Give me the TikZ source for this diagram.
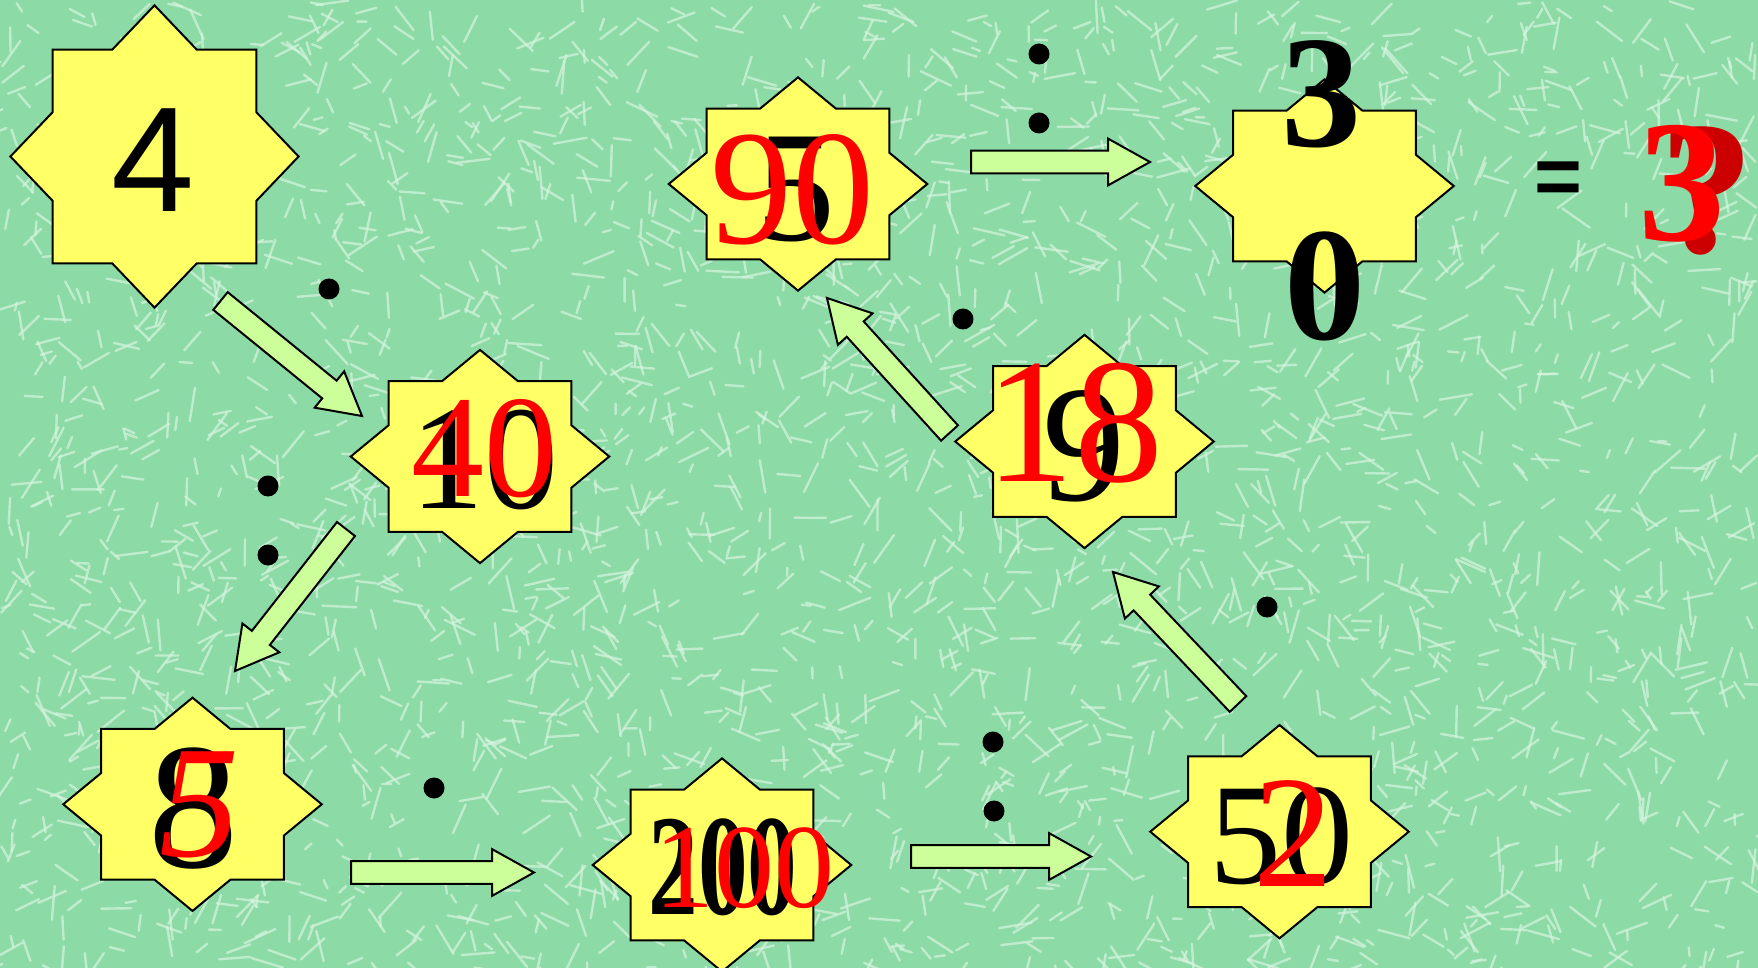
\documentclass[tikz,border=0pt]{standalone}
\usepackage{fontspec}
\setmainfont{Liberation Serif}
\newfontfamily\sansnum{Liberation Sans}
\usepackage{graphicx}
\usepackage{tikz}
\usetikzlibrary{calc}

\definecolor{bggreen}{RGB}{140,218,165}
\definecolor{bgstroke}{RGB}{214,244,222}
\definecolor{staryellow}{RGB}{255,255,102}
\definecolor{arrowgreen}{RGB}{204,255,153}
\definecolor{qred}{RGB}{204,0,0}

% eight-point star round a (rectangle) node
\newcommand{\drawstar}[1]{%
  \filldraw[starline] ($(#1.center)!1.4142!(#1.north)$)
    -- ($(#1.north)!0.4142!(#1.north east)$) -- (#1.north east)
    -- ($(#1.east)!0.4142!(#1.north east)$) -- ($(#1.center)!1.4142!(#1.east)$)
    -- ($(#1.east)!0.4142!(#1.south east)$) -- (#1.south east)
    -- ($(#1.south)!0.4142!(#1.south east)$) -- ($(#1.center)!1.4142!(#1.south)$)
    -- ($(#1.south)!0.4142!(#1.south west)$) -- (#1.south west)
    -- ($(#1.west)!0.4142!(#1.south west)$) -- ($(#1.center)!1.4142!(#1.west)$)
    -- ($(#1.west)!0.4142!(#1.north west)$) -- (#1.north west)
    -- ($(#1.north)!0.4142!(#1.north west)$) -- cycle;}

% block arrow from #1 to #2
\newcommand{\blockarrow}[2]{%
  \filldraw[arrowbox] ($(#1)!5.7pt!90:(#2)$)
    -- ($(#2)!21pt!(#1)!5.7pt!90:(#2)$)
    -- ($(#2)!21pt!(#1)!11.7pt!90:(#2)$)
    -- (#2)
    -- ($(#2)!21pt!(#1)!11.7pt!-90:(#2)$)
    -- ($(#2)!21pt!(#1)!5.7pt!-90:(#2)$)
    -- ($(#1)!5.7pt!-90:(#2)$) -- cycle;}

\begin{document}
\begin{tikzpicture}[
    x=0.5pt, y=-0.5pt,
    starbox/.style={rectangle, inner sep=0pt, minimum width=91pt, minimum height=75pt},
    bigstarbox/.style={rectangle, inner sep=0pt, minimum width=101.5pt, minimum height=106.5pt},
    starline/.style={draw=black, fill=staryellow, line width=1pt},
    arrowbox/.style={draw=black, fill=arrowgreen, line width=1pt},
    opdot/.style={circle, fill=black, inner sep=0pt, minimum size=10.5pt},
    num/.style={inner sep=0pt, text=black, font=\fontsize{#1}{#1}\selectfont},
    sansnum/.style={inner sep=0pt, text=black, font=\sansnum\fontsize{#1}{#1}\selectfont},
    rednum/.style={inner sep=0pt, text=red, font=\fontsize{#1}{#1}\selectfont},
    grain/.style={draw=bgstroke, line width=1.2pt, line cap=round, opacity=0.7}
]
    % Background with grain
    \useasboundingbox (0,0) rectangle (1758,968);
    \fill[bggreen] (0,0) rectangle (1758,968);
    \begin{scope}
        \clip (0,0) rectangle (1758,968);
        \pgfmathsetseed{11}
        \foreach \k in {1,...,2800}{
            \pgfmathsetmacro{\gx}{rnd*1758}
            \pgfmathsetmacro{\gy}{rnd*968}
            \pgfmathsetmacro{\ga}{rnd*180}
            \pgfmathsetmacro{\gl}{8+rnd*26}
            \draw[grain] (\gx,\gy) -- ++(\ga:\gl);
        }
    \end{scope}

    % Stars
    \node[bigstarbox] (s4) at (154.5,156.5) {};   \drawstar{s4}
    \node[starbox] (s90) at (798,184) {};         \drawstar{s90}
    \node[starbox] (s30) at (1324.5,186) {};      \drawstar{s30}
    \node[starbox] (s40) at (480,456.5) {};       \drawstar{s40}
    \node[starbox] (s18) at (1084.5,441.5) {};    \drawstar{s18}
    \node[starbox] (s8) at (192.5,804.3) {};      \drawstar{s8}
    \node[starbox] (s200) at (722,865) {};        \drawstar{s200}
    \node[starbox] (s50) at (1279.5,831.7) {};    \drawstar{s50}

    % Arrow ends
    \coordinate (t1) at (220.5,301);  \coordinate (h1) at (362,416);
    \coordinate (t2) at (346,529);    \coordinate (h2) at (235,671);
    \coordinate (t3) at (351,872.5);  \coordinate (h3) at (534,872.5);
    \coordinate (t4) at (911,856.5);  \coordinate (h4) at (1091,856.5);
    \coordinate (t5) at (1238,704);   \coordinate (h5) at (1113,572);
    \coordinate (t6) at (949.5,433);  \coordinate (h6) at (827,298);
    \coordinate (t7) at (971,162);    \coordinate (h7) at (1150,162);
    \blockarrow{t1}{h1}
    \blockarrow{t2}{h2}
    \blockarrow{t3}{h3}
    \blockarrow{t4}{h4}
    \blockarrow{t5}{h5}
    \blockarrow{t6}{h6}
    \blockarrow{t7}{h7}

    % Operation signs
    \node[opdot] (m1) at (329,289) {};
    \node[opdot] (d1a) at (268,486) {};
    \node[opdot] (d1b) at (268,555) {};
    \node[opdot] (m2) at (434,788) {};
    \node[opdot] (d2a) at (993,742) {};
    \node[opdot] (d2b) at (994,811) {};
    \node[opdot] (m3) at (1267,607) {};
    \node[opdot] (m4) at (963,319) {};
    \node[opdot] (d3a) at (1039,54) {};
    \node[opdot] (d3b) at (1039,123) {};

    % Numbers (black below, red above)
    \node[sansnum=74.7] (n4) at (153,160.5) {4};
    \node[num=74] (n10) at (484,460) {10};
    \node[rednum=73] (r40) at (484,449) {40};
    \node[num=90] (n8) at (193,809) {8};
    \node[rednum=80] (r5) at (199,804.5) {\itshape 5};
    \node[num=72] (n200) at (723,867.5) {\scalebox{0.69}[1]{\bfseries 200}};
    \node[rednum=60] (r100) at (744,868) {100};
    \node[num=72] (n50) at (1281,836) {50};
    \node[rednum=80] (r2) at (1293,834) {2};
    \node[num=83] (n9) at (1084,446) {9};
    \node[rednum=89] (r18) at (1074,423) {18};
    \node[num=79] (n5) at (796,190) {5};
    \node[rednum=82] (r90) at (792,189.5) {90};
    \node[num=80] (n3) at (1321.5,94) {\bfseries 3};
    \node[num=81] (n0) at (1324.5,286.7) {\bfseries 0};
    \node[sansnum=41] (eq) at (1558.7,183) {\bfseries =};
    \node[num=95, text=qred] (q) at (1707,191) {\bfseries ?};
    \node[rednum=87] (r3) at (1682,184) {\bfseries 3};
\end{tikzpicture}
\end{document}
